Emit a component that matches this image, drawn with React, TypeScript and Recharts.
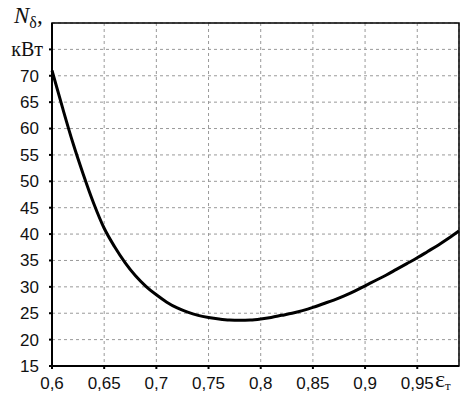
import React from 'react';
import { LineChart, Line, XAxis, YAxis, CartesianGrid, ReferenceArea } from 'recharts';

// turbine efficiency (x) vs power (y)
const EPS = [
  0.6, 0.61, 0.62, 0.63, 0.64, 0.65, 0.66, 0.67, 0.68, 0.69, 0.7, 0.71, 0.72, 0.73, 0.74, 0.75, 0.76, 0.77,
  0.78, 0.79, 0.8, 0.81, 0.82, 0.83, 0.84, 0.85, 0.86, 0.87, 0.88, 0.89, 0.9, 0.91, 0.92, 0.93, 0.94, 0.95,
  0.96, 0.97, 0.98, 0.99,
];
const POWER = [
  71, 64, 57.3, 51.3, 45.8, 41.1, 37.6, 34.6, 32.1, 30.1, 28.5, 27.1, 26, 25.2, 24.6, 24.2, 23.9, 23.7,
  23.65, 23.7, 23.9, 24.2, 24.6, 25, 25.5, 26.1, 26.8, 27.5, 28.3, 29.2, 30.2, 31.2, 32.2, 33.3, 34.4, 35.5,
  36.7, 37.9, 39.2, 40.6,
];
const X_TICKS = [0.6, 0.65, 0.7, 0.75, 0.8, 0.85, 0.9, 0.95];
const Y_TICKS = [15, 20, 25, 30, 35, 40, 45, 50, 55, 60, 65, 70, 75];
const UNIT_TICK = 75;

const data = EPS.map((e, i) => ({ eps: e, power: POWER[i] }));

const sans = '"Liberation Sans", Arial, sans-serif';
const serif = '"Liberation Serif", "Times New Roman", serif';

const YTick = (props: any) => {
  const { x, y, payload } = props;
  if (payload.value === UNIT_TICK) {
    return (
      <text x={x + 4} y={y} dy="0.35em" textAnchor="end" fontFamily={serif} fontSize={20} fill="#111">
        кВт
      </text>
    );
  }
  return (
    <text x={x} y={y} dy="0.35em" textAnchor="end" fontFamily={sans} fontSize={17} fill="#111">
      {payload.value}
    </text>
  );
};

const App: React.FC = () => {
  return (
    <div style={{ position: 'absolute', left: 0, top: 0, width: 465, height: 395, background: '#fff' }}>
      <LineChart width={465} height={395} data={data} margin={{ top: 23, right: 6, left: 0, bottom: 0 }}>
        <CartesianGrid stroke="#999" strokeDasharray="3 3" strokeWidth={1} />
        <XAxis
          dataKey="eps"
          type="number"
          domain={[0.6, 0.99]}
          ticks={X_TICKS}
          height={29}
          stroke="#000"
          strokeWidth={2}
          tickSize={3}
          tickMargin={8}
          tick={{ fill: '#111', fontFamily: sans, fontSize: 17 }}
          tickFormatter={(v: number) => String(v).replace('.', ',')}
        />
        <YAxis
          type="number"
          domain={[15, 80]}
          ticks={Y_TICKS}
          width={52}
          stroke="#000"
          strokeWidth={2}
          tickSize={3}
          tickMargin={10}
          tick={<YTick />}
        />
        <ReferenceArea x1={0.6} x2={0.99} y1={15} y2={80} fill="none" stroke="#000" strokeWidth={1.5} />
        <Line
          type="monotone"
          dataKey="power"
          stroke="#000"
          strokeWidth={3}
          dot={false}
          isAnimationActive={false}
        />
      </LineChart>
      {/* axis titles */}
      <div style={{ position: 'absolute', left: 14, top: 3, fontFamily: serif, fontSize: 23, color: '#111', lineHeight: 1.1, whiteSpace: 'nowrap' }}>
        <i>N</i>
        <span style={{ fontSize: 16, position: 'relative', top: 5 }}>δ</span>,
      </div>
      <div style={{ position: 'absolute', left: 435, top: 367, fontFamily: serif, fontSize: 24, color: '#111', lineHeight: 1, whiteSpace: 'nowrap' }}>
        ε
        <span style={{ fontSize: 13, position: 'relative', top: 3 }}>т</span>
      </div>
    </div>
  );
};

export default App;
